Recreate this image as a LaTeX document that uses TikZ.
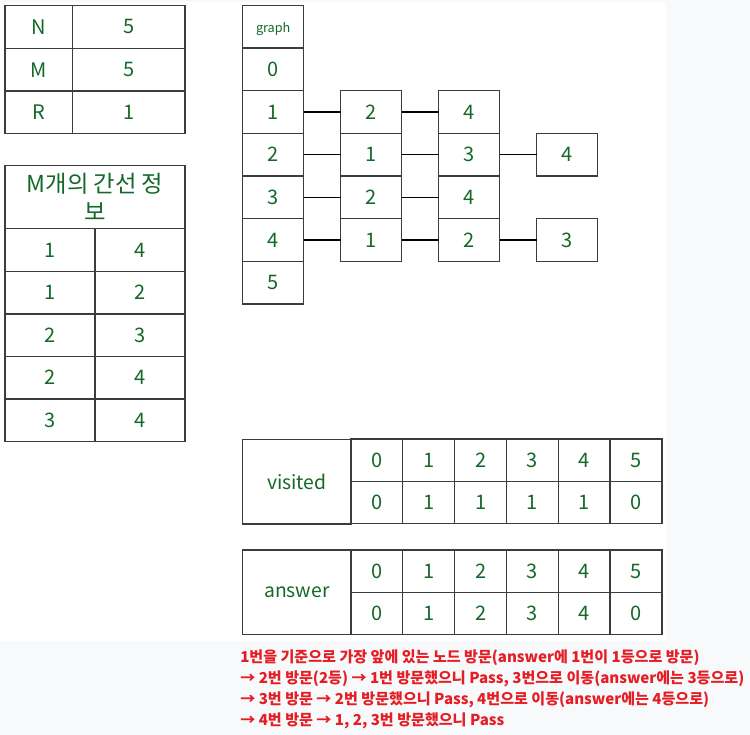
\documentclass[tikz,border=0pt]{standalone}
\usepackage{fontspec}
\setmainfont{Noto Sans CJK KR}
\definecolor{tgreen}{RGB}{20,105,40}
\definecolor{tred}{RGB}{228,30,36}
\definecolor{bggray}{RGB}{248,249,251}
\definecolor{lgray}{RGB}{60,60,60}
\begin{document}
\begin{tikzpicture}[x=0.75pt,y=-0.75pt,
  cell/.style 2 args={draw=lgray, line width=1pt, rectangle, inner sep=0pt, outer sep=0pt,
    text=tgreen, font=\fontsize{15}{17}\selectfont,
    minimum width=#1*0.75pt, minimum height=#2*0.75pt},
  link/.style={draw=black, line width=1pt},
  note/.style={anchor=base west, inner sep=0pt, text=tred, font=\fontsize{11.3}{13}\selectfont\bfseries}]
\useasboundingbox (0,0) rectangle (750,735);
\fill[bggray] (0,0) rectangle (750,735);
\fill[white] (0,2) rectangle (666,641);
% table N M R
\node[cell={67.7}{42.67}] (tN) at (38.8,27) {N};
\node[cell={112.3}{42.67}] (tNv) at (128.8,27) {5};
\node[cell={67.7}{42.67}] (tM) at (38.8,69.7) {M};
\node[cell={112.3}{42.67}] (tMv) at (128.8,69.7) {5};
\node[cell={67.7}{42.67}] (tR) at (38.8,112.3) {R};
\node[cell={112.3}{42.67}] (tRv) at (128.8,112.3) {1};
% edge table
\node[cell={180}{63}, align=center, font=\fontsize{17.5}{21}\selectfont] (eh) at (95,197.2) {M개의 간선 정\\보};
\node[cell={90}{42.5}] (e1a) at (50,250) {1};
\node[cell={90}{42.5}] (e1b) at (140,250) {4};
\node[cell={90}{42.5}] (e2a) at (50,292.5) {1};
\node[cell={90}{42.5}] (e2b) at (140,292.5) {2};
\node[cell={90}{42.5}] (e3a) at (50,335.2) {2};
\node[cell={90}{42.5}] (e3b) at (140,335.2) {3};
\node[cell={90}{42.5}] (e4a) at (50,377.7) {2};
\node[cell={90}{42.5}] (e4b) at (140,377.7) {4};
\node[cell={90}{42.5}] (e5a) at (50,420) {3};
\node[cell={90}{42.5}] (e5b) at (140,420) {4};
% graph column
\node[cell={61}{42.67}, font=\fontsize{9.5}{11}\selectfont, text height=11pt, text depth=2pt] (gh) at (273.2,26.6) {graph};
\node[cell={61}{42.67}] (g0) at (273.2,69.3) {0};
\node[cell={61}{42.67}] (g1) at (273.2,112) {1};
\node[cell={61}{42.67}] (g2) at (273.2,154.7) {2};
\node[cell={61}{42.67}] (g3) at (273.2,197.3) {3};
\node[cell={61}{42.67}] (g4) at (273.2,240) {4};
\node[cell={61}{42.67}] (g5) at (273.2,282.6) {5};
% adjacency lists
\node[cell={61}{42.67}] (a1) at (371.2,112) {2};
\node[cell={61}{42.67}] (b1) at (469.2,112) {4};
\node[cell={61}{42.67}] (a2) at (371.2,154.7) {1};
\node[cell={61}{42.67}] (b2) at (469.2,154.7) {3};
\node[cell={61}{42.67}] (c2) at (567.2,154.7) {4};
\node[cell={61}{42.67}] (a3) at (371.2,197.3) {2};
\node[cell={61}{42.67}] (b3) at (469.2,197.3) {4};
\node[cell={61}{42.67}] (a4) at (371.2,240) {1};
\node[cell={61}{42.67}] (b4) at (469.2,240) {2};
\node[cell={61}{42.67}] (c4) at (567.2,240) {3};
\draw[link] (g1) -- (a1);
\draw[link] (a1) -- (b1);
\draw[link] (g2) -- (a2);
\draw[link] (a2) -- (b2);
\draw[link] (b2) -- (c2);
\draw[link] (g3) -- (a3);
\draw[link] (a3) -- (b3);
\draw[link] (g4) -- (a4);
\draw[link] (a4) -- (b4);
\draw[link] (b4) -- (c4);
% visited
\node[cell={108.3}{84.7}, font=\fontsize{14.5}{17}\selectfont] (vl) at (296.8,481.6) {visited};
\foreach \i/\v in {0/0,1/1,2/1,3/1,4/1,5/0}{
  \node[cell={51.83}{42.3}] (vh\i) at ({376.9+51.83*\i},460.3) {\i};
  \node[cell={51.83}{42.3}] (vv\i) at ({376.9+51.83*\i},502.6) {\v};
}
% answer
\node[cell={108.3}{84.7}, font=\fontsize{14.5}{17}\selectfont] (al) at (296.8,592.3) {answer};
\foreach \i/\v in {0/0,1/1,2/2,3/3,4/4,5/0}{
  \node[cell={51.83}{42.3}] (ah\i) at ({376.9+51.83*\i},571.2) {\i};
  \node[cell={51.83}{42.3}] (av\i) at ({376.9+51.83*\i},613.5) {\v};
}
% notes
\node[note] (n1) at (240,662.3) {1번을 기준으로 가장 앞에 있는 노드 방문(answer에 1번이 1등으로 방문)};
\node[note] (n2) at (240,683.4) {→ 2번 방문(2등) → 1번 방문했으니 Pass, 3번으로 이동(answer에는 3등으로)};
\node[note] (n3) at (240,704.5) {→ 3번 방문 → 2번 방문했으니 Pass, 4번으로 이동(answer에는 4등으로)};
\node[note] (n4) at (240,725.6) {→ 4번 방문 → 1, 2, 3번 방문했으니 Pass};
\end{tikzpicture}
\end{document}
